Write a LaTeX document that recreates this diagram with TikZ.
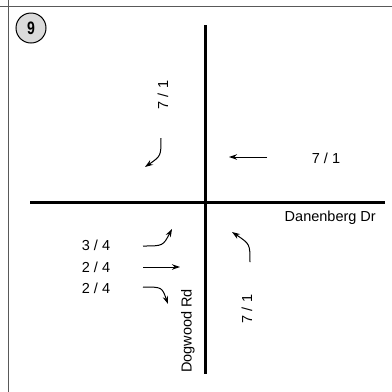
\documentclass[tikz,border=0pt]{standalone}
\usepackage{fontspec}
\setmainfont{Liberation Sans}
\usetikzlibrary{arrows.meta}
\begin{document}
\begin{tikzpicture}[x=1pt,y=-1pt,
  road/.style={line width=3pt,black},
  frameline/.style={line width=1.4pt,black!65},
  mv/.style={line width=1pt,black,-{Stealth[length=8pt,width=5.5pt]}},
  lbl/.style={font=\fontsize{14.5}{15}\selectfont,inner sep=0pt},
]
\useasboundingbox (0,0) rectangle (392,392);
\fill[white] (0,0) rectangle (392,392);
% frame
\draw[frameline] (0,6.5) -- (392,6.5);
\draw[frameline] (8.5,0) -- (8.5,392);
% badge
\node[circle,draw=black,line width=1pt,fill=black!14,minimum size=30pt,inner sep=0pt,
  font=\fontsize{18}{18}\selectfont\bfseries] (badge) at (31,28) {\scalebox{0.78}[1]{9}};
% roads
\coordinate (nTop) at (205,25);
\coordinate (nBot) at (205,374);
\coordinate (wL) at (30,202);
\coordinate (wR) at (385,202);
\draw[road] (nTop) -- (nBot);
\draw[road] (wL) -- (wR);
% road names
\node[lbl,anchor=east] (dan) at (376,218) {Danenberg Dr};
\node[lbl,rotate=90] (dog) at (188,331) {Dogwood Rd};
% volume labels
\node[lbl,rotate=90] (vN) at (163,95) {7 / 1};
\node[lbl] (vE) at (326,158) {7 / 1};
\node[lbl,rotate=90] (vS) at (247,309) {7 / 1};
\node[lbl] (vW1) at (96,245) {3 / 4};
\node[lbl] (vW2) at (96,267) {2 / 4};
\node[lbl] (vW3) at (96,288) {2 / 4};
% movement arrows
\coordinate (aN0) at (161,138); \coordinate (aN1) at (145,167);
\draw[mv] (aN0) .. controls (161,156) .. (aN1);
\coordinate (aE0) at (267,157); \coordinate (aE1) at (229,157);
\draw[mv] (aE0) -- (aE1);
\coordinate (aS0) at (250,262); \coordinate (aS1) at (232,232);
\draw[mv] (aS0) .. controls (250,244) .. (aS1);
\coordinate (aW10) at (143,246); \coordinate (aW11) at (172,229);
\draw[mv] (aW10) .. controls (163,246) .. (aW11);
\coordinate (aW20) at (143,267); \coordinate (aW21) at (180,267);
\draw[mv] (aW20) -- (aW21);
\coordinate (aW30) at (143,287); \coordinate (aW31) at (168,304);
\draw[mv] (aW30) .. controls (162,287) .. (aW31);
\end{tikzpicture}
\end{document}
